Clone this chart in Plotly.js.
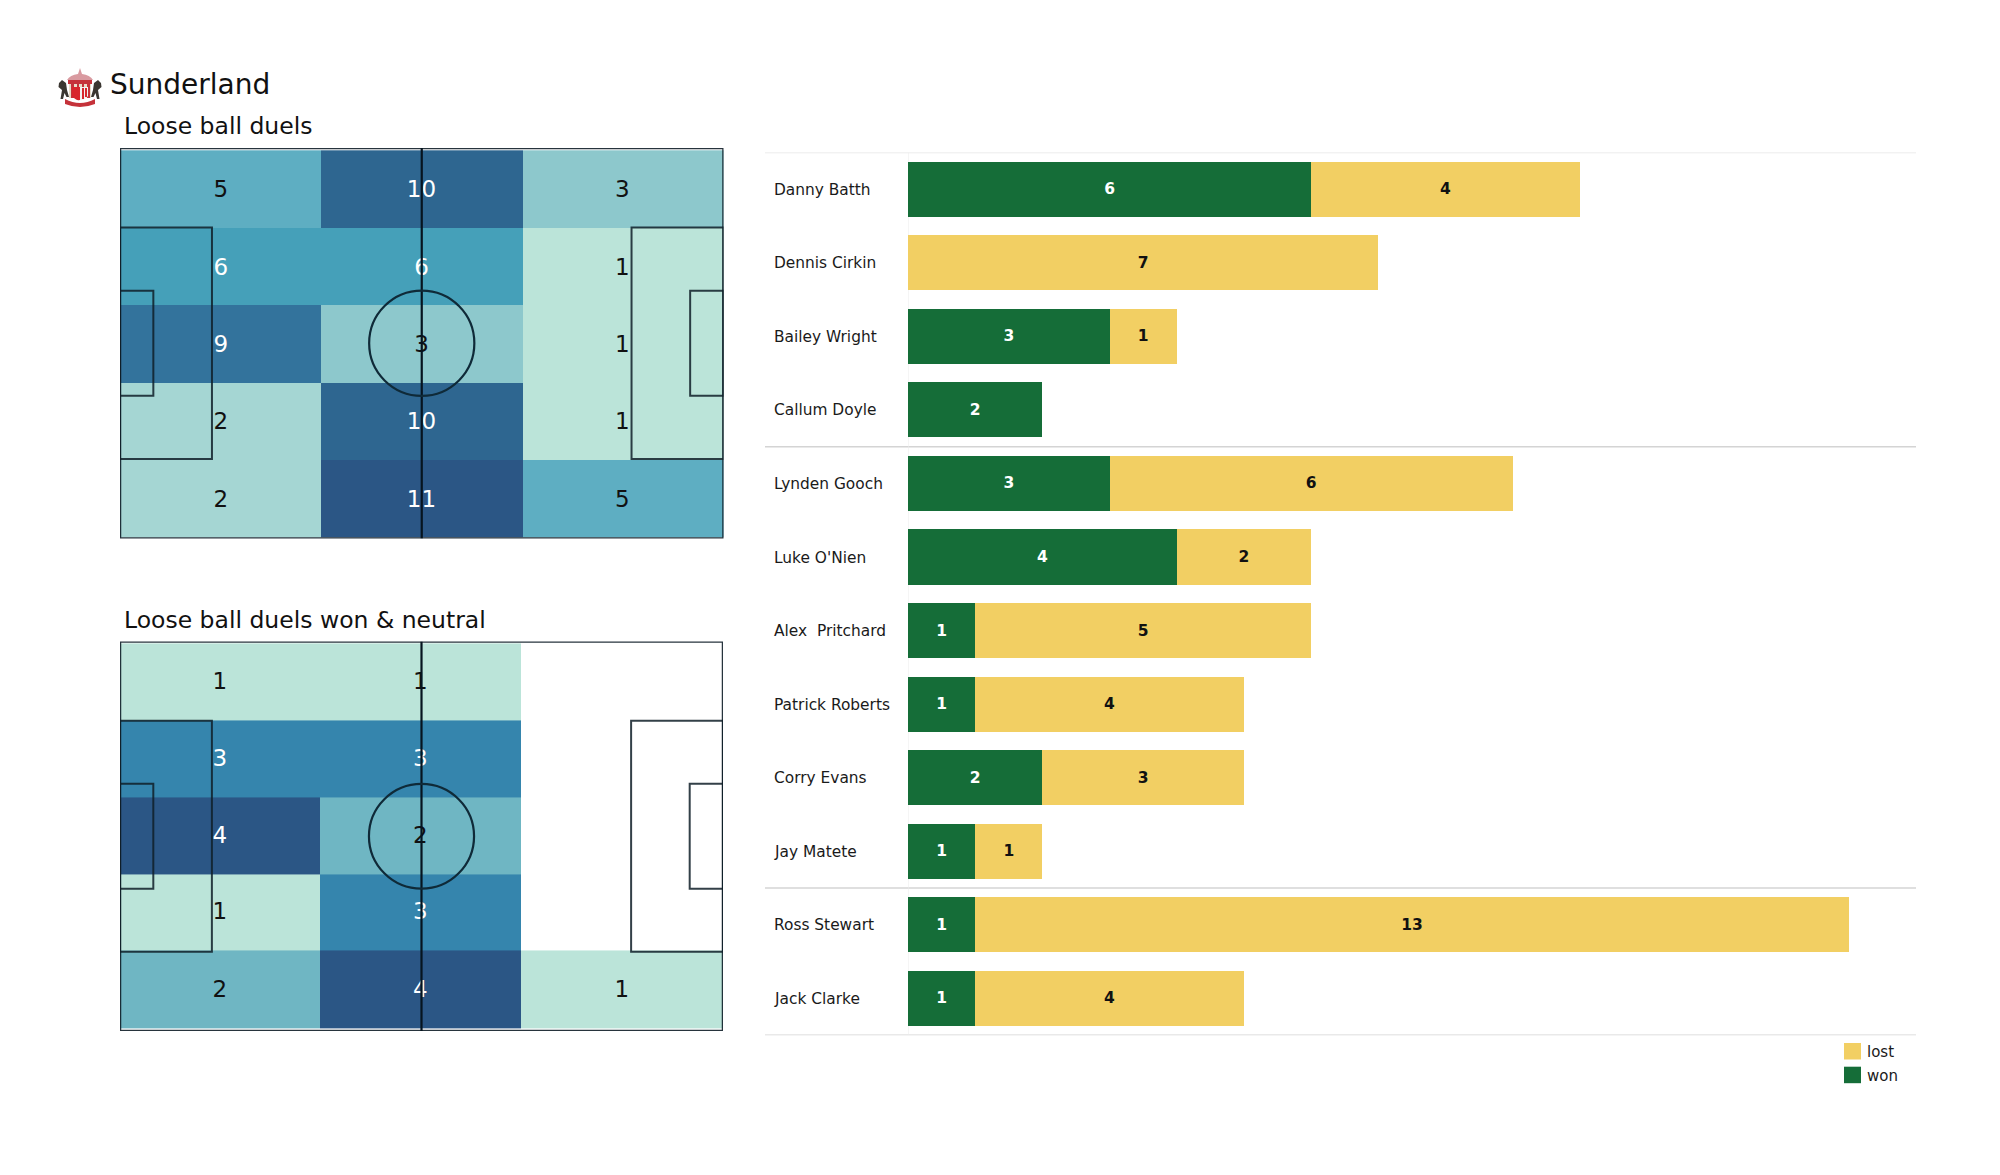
<!DOCTYPE html>
<html>
<head>
<meta charset="utf-8">
<script src="https://cdn.plot.ly/plotly-3.0.1.min.js"></script>
<style>html,body{margin:0;padding:0;background:#fff}#chart{width:2000px;height:1175px}</style>
</head>
<body>
<div id="chart"></div>
<script>
// ---- data ----
const teamName = "Sunderland";
const titleTop = "Loose ball duels";
const titleBottom = "Loose ball duels won & neutral";

const duelsAll = [
  [5, 10, 3],
  [6, 6, 1],
  [9, 3, 1],
  [2, 10, 1],
  [2, 11, 5]
];
const duelsWon = [
  [1, 1, null],
  [3, 3, null],
  [4, 2, null],
  [1, 3, null],
  [2, 4, 1]
];
const players = ["Danny Batth", "Dennis Cirkin", "Bailey Wright", "Callum Doyle", "Lynden Gooch", "Luke O'Nien",
  "Alex  Pritchard", "Patrick Roberts", "Corry Evans", "Jay Matete", "Ross Stewart", "Jack Clarke"];
const won  = [6, null, 3, 2, 3, 4, 1, 1, 2, 1, 1, 1];
const lost = [4, 7, 1, null, 6, 2, 5, 4, 3, 1, 13, 4];
const legendNames = ["lost", "won"];

// ---- styling ----
const FONT = "DejaVu Sans";
const GREEN = "#156d38", YELLOW = "#f2cf63";
const scaleAll = [[0, "#bbe4d9"], [0.1, "#a5d6d3"], [0.2, "#8dc8cc"], [0.4, "#5eaec2"], [0.5, "#45a0b9"],
                  [0.8, "#33739c"], [0.9, "#2e6690"], [1, "#2b5685"]];
const scaleWon = [[0, "#bbe4d9"], [1 / 3, "#6fb6c3"], [2 / 3, "#3585ad"], [1, "#2b5685"]];
const whiteFromAll = 6, whiteFromWon = 3;

const colEdgesTop = [0, 35.1, 69.8, 105];
const rowEdgesTop = [0.4, 13.9, 27.4, 40.9, 54.3, 67.8];
const colEdgesBottom = [0, 34.8, 69.8, 105];
const rowEdgesBottom = [0.33, 13.7, 27.2, 40.6, 54.0, 67.6];
const mid = a => a.slice(0, -1).map((v, i) => (v + a[i + 1]) / 2);

const px = v => v / 2000, py = v => 1 - v / 1175;

function heat(z, cols, rows, scale, zmin, zmax, xa, ya) {
  return {type: "heatmap", z, x: cols, y: rows, colorscale: scale, zmin, zmax, showscale: false, showlegend: false,
    xgap: 0, ygap: 0, hoverinfo: "z", xaxis: xa, yaxis: ya};
}
function cellText(z, cols, rows, whiteFrom, nudgeY, xa, ya) {
  const xs = [], ys = [], ts = [], cs = [], cx = mid(cols), cy = mid(rows);
  z.forEach((row, r) => row.forEach((v, c) => {
    if (v === null) return;
    xs.push(cx[c]); ys.push(cy[r] + nudgeY); ts.push(String(v));
    cs.push(v >= whiteFrom ? "#ffffff" : "#111111");
  }));
  return {type: "scatter", mode: "text", x: xs, y: ys, text: ts, textposition: "middle center",
    textfont: {family: FONT, size: 23, color: cs}, hoverinfo: "skip", showlegend: false, xaxis: xa, yaxis: ya, cliponaxis: false};
}
function pitchShapes(xr, yr) {
  const ln = {color: "rgba(15,30,40,0.85)", width: 2};
  const rect = (x0, x1, y0, y1, line) => ({type: "rect", xref: xr, yref: yr, x0, x1, y0, y1, line: line || ln, layer: "above"});
  return [
    rect(0, 105, 0, 68, {color: "rgba(15,30,40,0.9)", width: 2.5}),
    rect(0, 16, 13.84, 54.16), rect(89, 105, 13.84, 54.16),
    rect(0, 5.8, 24.84, 43.16), rect(99.2, 105, 24.84, 43.16),
    {type: "line", xref: xr, yref: yr, x0: 52.5, x1: 52.5, y0: 0, y1: 68, line: {color: "#06141f", width: 2.2}, layer: "above"},
    {type: "circle", xref: xr, yref: yr, x0: 43.35, x1: 61.65, y0: 24.85, y1: 43.15, line: {color: "#0f2a38", width: 2.2}, layer: "above"}
  ];
}

const yIdx = players.map((_, i) => i);
const barBase = {type: "bar", orientation: "h", y: yIdx, width: 0.75, xaxis: "x3", yaxis: "y3", showlegend: false,
  textposition: "inside", insidetextanchor: "middle", textangle: 0, hoverinfo: "x+name"};
const toText = a => a.map(v => v === null ? "" : String(v));

const traces = [
  heat(duelsAll, colEdgesTop, rowEdgesTop, scaleAll, 1, 11, "x", "y"),
  heat(duelsWon, colEdgesBottom, rowEdgesBottom, scaleWon, 1, 4, "x2", "y2"),
  cellText(duelsAll, colEdgesTop, rowEdgesTop, whiteFromAll, 0.4, "x", "y"),
  cellText(duelsWon, colEdgesBottom, rowEdgesBottom, whiteFromWon, 0.22, "x2", "y2"),
  Object.assign({}, barBase, {name: "won", x: won, text: toText(won), marker: {color: GREEN, line: {width: 0}},
    textfont: {family: FONT, size: 15.5, weight: 700, color: "#ffffff"}}),
  Object.assign({}, barBase, {name: "lost", x: lost, text: toText(lost), marker: {color: YELLOW, line: {width: 0}},
    textfont: {family: FONT, size: 15.5, weight: 700, color: "#111111"}})
];

const crest = `<svg xmlns="http://www.w3.org/2000/svg" viewBox="0 0 46 40">
<path d="M23 0 L25 6 Q33 7 36 12 L10 12 Q13 7 21 6Z" fill="#d99aa0"/>
<rect x="11" y="12" width="24" height="4" fill="#c5323a"/>
<rect x="12" y="16" width="22" height="14" fill="#e8dcc8"/>
<rect x="14" y="16" width="3" height="14" fill="#c5323a"/><rect x="20" y="16" width="2" height="14" fill="#c5323a"/>
<rect x="25" y="16" width="2" height="14" fill="#c5323a"/><rect x="30" y="16" width="3" height="14" fill="#c5323a"/>
<path d="M15 19 H23 V32 Q19 33 15 28Z" fill="#d8262c"/><path d="M23 19 H31 V28 Q27 33 23 32Z" fill="#f2f2f2"/>
<rect x="25" y="20" width="2" height="11" fill="#d8262c"/><rect x="28" y="20" width="2" height="9" fill="#d8262c"/>
<path d="M8 31 Q23 39 38 31 L38 36 Q23 42 8 36Z" fill="#c5323a"/>
<path d="M2 15 L5 12 L9 15 L10 22 L12 29 L9.5 29 L7.5 25 L6 31 L3.5 31 L5 22 L1.5 19Z" fill="#3a3630"/>
<path d="M44 15 L41 12 L37 15 L36 22 L34 29 L36.5 29 L38.5 25 L40 31 L42.5 31 L41 22 L44.5 19Z" fill="#3a3630"/>
</svg>`;

const sepShape = (yv, color) => ({type: "line", xref: "paper", yref: "y3", x0: px(765), x1: px(1916), y0: yv, y1: yv,
  line: {color: color, width: 1.5}, layer: "below"});
const legendSwatch = (top, color) => ({type: "rect", xref: "paper", yref: "paper", x0: px(1844), x1: px(1861),
  y0: py(top + 16.5), y1: py(top), fillcolor: color, line: {width: 0}, layer: "above"});
const legendLabel = (name, yc) => ({text: name, xref: "paper", yref: "paper", x: px(1864.5), y: py(yc), xanchor: "left", yanchor: "middle",
  showarrow: false, font: {family: FONT, size: 15, color: "#1a1a1a"}});

const layout = {
  width: 2000, height: 1175, margin: {l: 0, r: 0, t: 0, b: 0}, paper_bgcolor: "#fff", plot_bgcolor: "rgba(0,0,0,0)",
  font: {family: FONT, color: "#111"},
  barmode: "stack", bargap: 0.25,
  xaxis: {domain: [px(120), px(723.5)], range: [0, 105], visible: false, fixedrange: true},
  yaxis: {domain: [py(538.5), py(148)], range: [68, 0], visible: false, fixedrange: true},
  xaxis2: {domain: [px(120), px(723)], range: [0, 105], visible: false, fixedrange: true, anchor: "y2"},
  yaxis2: {domain: [py(1031), py(641.5)], range: [68, 0], visible: false, fixedrange: true, anchor: "x2"},
  xaxis3: {domain: [px(908), px(1916)], range: [0, 15], visible: false, fixedrange: true, anchor: "y3"},
  yaxis3: {domain: [py(1035.2), py(152.4)], range: [11.5, -0.5], visible: false, fixedrange: true, anchor: "x3"},
  shapes: [
    ...pitchShapes("x", "y"),
    ...pitchShapes("x2", "y2"),
    sepShape(-0.5, "#e6e6e6"), sepShape(3.5, "#d4d4d4"), sepShape(9.5, "#d4d4d4"), sepShape(11.5, "#d4d4d4"),
    {type: "line", xref: "x3", yref: "y3", x0: 0, x1: 0, y0: -0.5, y1: 11.5, line: {color: "#ececec", width: 1}, layer: "below"},
    legendSwatch(1043, YELLOW), legendSwatch(1066.7, GREEN)
  ],
  annotations: [
    {text: teamName, xref: "paper", yref: "paper", x: px(107.7), y: py(84), xanchor: "left", yanchor: "middle", showarrow: false,
      font: {family: FONT, size: 28, color: "#111"}},
    {text: titleTop, xref: "paper", yref: "paper", x: px(121.7), y: py(125.5), xanchor: "left", yanchor: "middle", showarrow: false,
      font: {family: FONT, size: 23.5, color: "#111"}},
    {text: titleBottom.replace("&", "&amp;"), xref: "paper", yref: "paper", x: px(121.7), y: py(619.5), xanchor: "left", yanchor: "middle", showarrow: false,
      font: {family: FONT, size: 23.5, color: "#111"}},
    ...players.map((name, i) => ({text: name, xref: "paper", yref: "y3", x: px(771.7), y: i, xanchor: "left", yanchor: "middle",
      yshift: -0.5, showarrow: false, font: {family: FONT, size: 15.4, color: "#1a1a1a"}})),
    legendLabel(legendNames[0], 1052), legendLabel(legendNames[1], 1076)
  ],
  images: [{source: "data:image/svg+xml;base64," + btoa(crest), xref: "paper", yref: "paper", x: px(57), y: py(68),
    sizex: 46 / 2000, sizey: 40 / 1175, xanchor: "left", yanchor: "top", sizing: "stretch", layer: "above"}],
  showlegend: false
};

Plotly.newPlot("chart", traces, layout, {displayModeBar: false, responsive: false});
</script>
</body>
</html>
